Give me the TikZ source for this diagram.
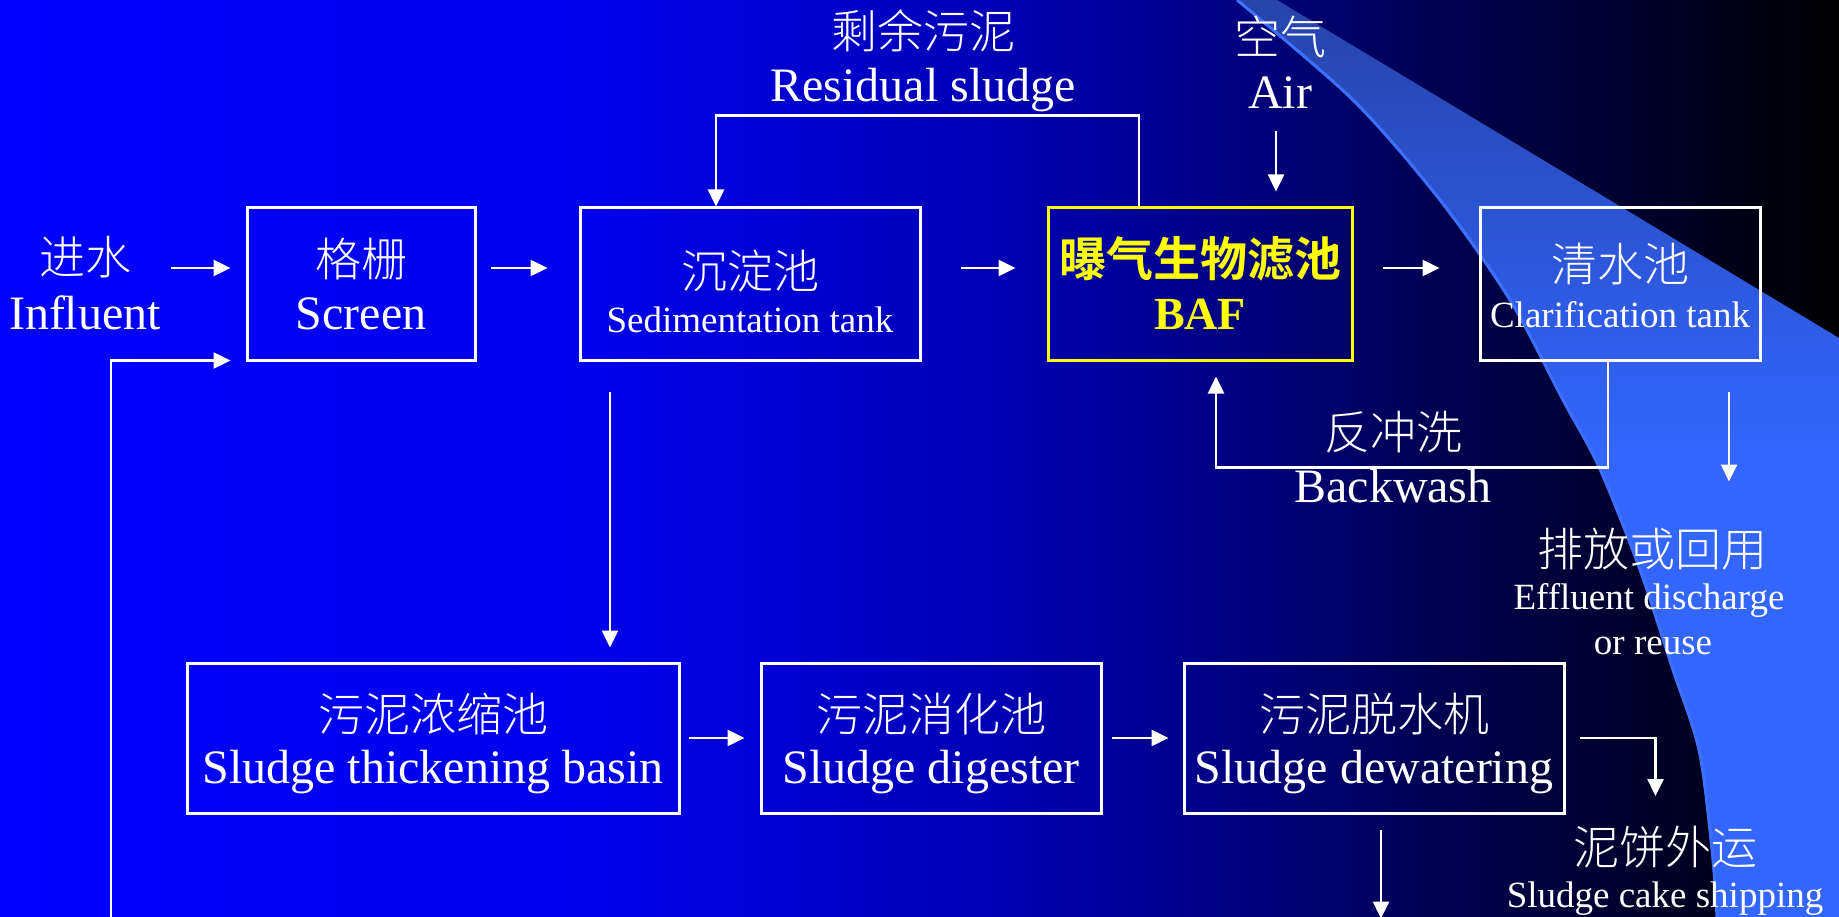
\documentclass[tikz,border=0pt]{standalone}
\usepackage{fontspec}
\setmainfont{Liberation Serif}
\newfontfamily\cjk{Noto Sans CJK SC Light}[BoldFont={Noto Sans CJK SC Bold}]
\usetikzlibrary{arrows.meta,calc}
\pgfdeclarehorizontalshading{bgshade}{100bp}{rgb(0bp)=(0,0,1); rgb(25bp)=(0,0,1); rgb(41.3bp)=(0,0,0.92); rgb(52.2bp)=(0,0,0.70); rgb(57.6bp)=(0,0,0.54); rgb(64.2bp)=(0,0,0.31); rgb(69.9bp)=(0,0,0.16); rgb(75bp)=(0,0,0); rgb(100bp)=(0,0,0)}
\definecolor{swtop}{RGB}{38,68,170}
\definecolor{swmid}{RGB}{51,102,255}
\definecolor{rimc}{RGB}{62,112,255}
\definecolor{bafyellow}{RGB}{255,255,0}
\tikzset{
  box/.style={draw=white, line width=3pt, inner sep=0pt, minimum height=152pt},
  lowbox/.style={draw=white, line width=3pt, inner sep=0pt, minimum height=150pt},
  zh/.style={font=\cjk\fontsize{46}{50}\selectfont, text=white, anchor=base, inner sep=0pt},
  en/.style={font=\fontsize{48}{56}\selectfont, text=white, anchor=base, inner sep=0pt},
  ens/.style={font=\fontsize{37}{44}\selectfont, text=white, anchor=base, inner sep=0pt},
  arr/.style={draw=white, line width=2.5pt, -{Triangle[length=17pt,width=16pt]}}
}
\begin{document}
\begin{tikzpicture}[x=1pt,y=-1pt]
\useasboundingbox (0,0) rectangle (1839,917);
% background
\shade[shading=bgshade] (0,0) rectangle (1839,917);
% swoosh
\shade[top color=swtop, bottom color=swmid, middle color=swmid]
  (1237,0) -- (1277,0) -- (1839,338) -- (1839,917) --
  plot[smooth] coordinates {(1717,917) (1712,850) (1699,750) (1672,667) (1639,567) (1599,467) (1563,400) (1510,300) (1440,200) (1353,100) (1237,0)} -- cycle;
\draw[rimc, line width=3pt] plot[smooth] coordinates {(1717,917) (1712,850) (1699,750) (1672,667) (1639,567) (1599,467) (1563,400) (1510,300) (1440,200) (1353,100) (1237,0)};

% boxes
\node[box, minimum width=228pt] (screen) at (361,284) {};
\node[box, minimum width=340pt] (sed) at (750,284) {};
\node[box, minimum width=304pt, draw=bafyellow] (baf) at (1200,284) {};
\node[box, minimum width=280pt] (clar) at (1620,284) {};
\node[lowbox, minimum width=492pt] (thick) at (433,738) {};
\node[lowbox, minimum width=340pt] (dig) at (931,738) {};
\node[lowbox, minimum width=380pt] (dew) at (1374,738) {};

% texts
\node[zh] (inzh) at (85,275) {进水};
\node[en] (inen) at (85,329) {Influent};
\node[zh] (scrzh) at (361,277) {格栅};
\node[en] (scren) at (361,329) {Screen};
\node[zh] (sedzh) at (750,289) {沉淀池};
\node[ens] (seden) at (750,333) {Sedimentation tank};
\node[zh, text=bafyellow, font=\cjk\bfseries\fontsize{47}{50}\selectfont] (bafzh) at (1200,277) {曝气生物滤池};
\node[en, text=bafyellow, font=\bfseries\fontsize{46}{54}\selectfont] (bafen) at (1200,330) {BAF};
\node[zh] (clarzh) at (1620,282) {清水池};
\node[ens] (claren) at (1620,327) {Clarification tank};
\node[zh] (reszh) at (923,49) {剩余污泥};
\node[en] (resen) at (923,102) {Residual sludge};
\node[zh] (airzh) at (1280,55) {空气};
\node[en] (airen) at (1280,109) {Air};
\node[zh] (bwzh) at (1393,449) {反冲洗};
\node[en] (bwen) at (1393,502) {Backwash};
\node[zh] (effzh) at (1652,566) {排放或回用};
\node[ens] (effen) at (1649,609) {Effluent discharge};
\node[ens] (effen2) at (1653,654) {or reuse};
\node[zh] (thzh) at (433,731) {污泥浓缩池};
\node[en] (then) at (433,783) {Sludge thickening basin};
\node[zh] (digzh) at (931,731) {污泥消化池};
\node[en] (digen) at (931,783) {Sludge digester};
\node[zh] (dewzh) at (1374,731) {污泥脱水机};
\node[en] (dewen) at (1374,783) {Sludge dewatering};
\node[zh] (shipzh) at (1665,864) {泥饼外运};
\node[ens] (shipen) at (1665,907) {Sludge cake shipping};

% connectors
\draw[arr] ($(screen.west)+(-75,-16)$) -- ($(screen.west)+(-15,-16)$);
\draw[arr] ($(screen.east)+(14,-16)$) -- ($(sed.west)+(-31,-16)$);
\draw[arr] ($(sed.east)+(39,-16)$) -- ($(baf.west)+(-31,-16)$);
\draw[arr] ($(baf.east)+(29,-16)$) -- ($(clar.west)+(-39,-16)$);
\draw[arr] ($(baf.north)+(-61,0)$) -- ++(0,-91) -| ($(sed.north)+(-34,0)$);
\draw[arr] ($(baf.north)+(76,-75)$) -- ($(baf.north)+(76,-15)$);
\draw[arr] ($(clar.south)+(-12,0)$) -- ++(0,106) -| ($(baf.south)+(16,15)$);
\draw[arr] ($(clar.south)+(109,30)$) -- ($(clar.south)+(109,120)$);
\draw[arr] ($(sed.south)+(-140,30)$) -- ($(sed.south)+(-140,286)$);
\draw[arr] ($(thick.east)+(8,0)$) -- ($(dig.west)+(-15,0)$);
\draw[arr] ($(dig.east)+(9,0)$) -- ($(dew.west)+(-14,0)$);
\draw[arr] ($(dew.east)+(14,0)$) -| ($(dew.east)+(90,58)$);
\draw[arr] ($(dew.south)+(7,15)$) -- ($(dew.south)+(7,104)$);
\coordinate (ret) at (111,920);
\draw[arr] (ret) |- ($(screen.south west)+(-15,-1)$);
\end{tikzpicture}
\end{document}
